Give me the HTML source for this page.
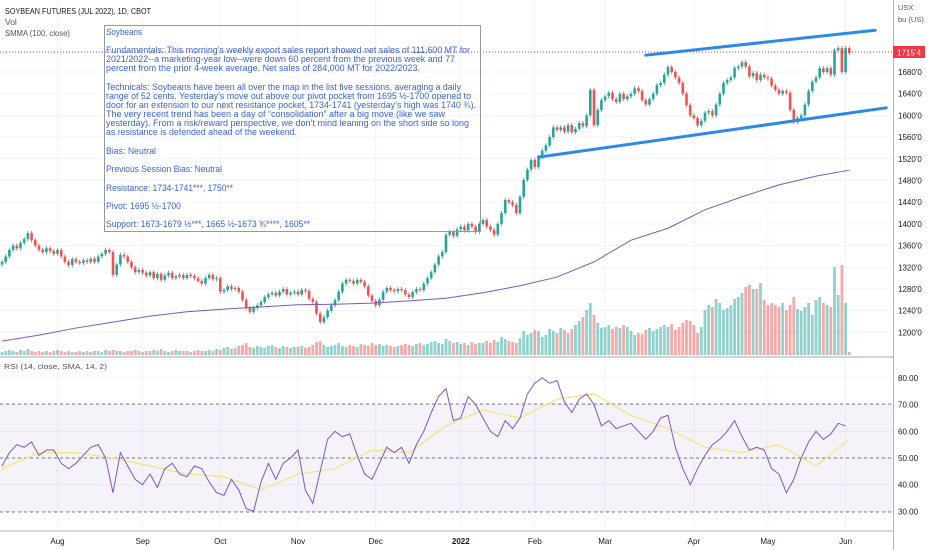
<!DOCTYPE html>
<html><head><meta charset="utf-8"><style>
html,body{margin:0;padding:0;background:#fff;width:932px;height:550px;overflow:hidden}
svg{display:block;font-family:"Liberation Sans",sans-serif}
</style></head><body>
<svg id="c" width="932" height="550" viewBox="0 0 932 550" xmlns="http://www.w3.org/2000/svg">
<g id="grid"></g>
<rect x="0" y="404" width="893" height="108" fill="#7e57c2" fill-opacity="0.08"/>
<g id="vol"></g>
<g id="candles"></g>
<path id="smma" fill="none" stroke="#7e57c2" stroke-width="1"/>
<line x1="0" y1="52" x2="893" y2="52" stroke="#f23645" stroke-width="1" stroke-dasharray="1,2"/>
<g id="trend"></g>
<g stroke="#787b86" stroke-dasharray="3,3" stroke-width="1">
<line x1="0" y1="404" x2="893" y2="404"/>
<line x1="0" y1="458" x2="893" y2="458"/>
<line x1="0" y1="512" x2="893" y2="512"/>
</g>
<path id="rsisig" fill="none" stroke="#f2e57a" stroke-width="1.2"/>
<path id="rsi" fill="none" stroke="#7e57c2" stroke-width="1"/>
<line x1="0" y1="357" x2="893" y2="357" stroke="#d1d4dc" stroke-width="2"/>
<line x1="0" y1="531" x2="893" y2="531" stroke="#b2b5be" stroke-width="1"/>
<line x1="893.5" y1="0" x2="893.5" y2="550" stroke="#b2b5be" stroke-width="1"/>
<g id="axes" font-size="8" fill="#131722"></g>
<g font-size="8.5">
<text x="5" y="14" fill="#131722" textLength="146" lengthAdjust="spacingAndGlyphs">SOYBEAN FUTURES (JUL 2022), 1D, CBOT</text>
<text x="5" y="25" fill="#555">Vol</text>
<text x="5" y="36" fill="#555" textLength="65" lengthAdjust="spacingAndGlyphs">SMMA (100, close)</text>
<text x="4" y="369" fill="#555" font-size="7.5" textLength="103" lengthAdjust="spacingAndGlyphs">RSI (14, close, SMA, 14, 2)</text>
</g>
<g>
<rect x="104.5" y="25.5" width="376" height="206" fill="none" stroke="#9598a1" stroke-width="1"/>
<g font-size="9.2" fill="#3a64e0">
<text x="106" y="35" textLength="36" lengthAdjust="spacingAndGlyphs">Soybeans</text>
<text x="106" y="53" textLength="364" lengthAdjust="spacingAndGlyphs">Fundamentals: This morning’s weekly export sales report showed net sales of 111,600 MT for</text>
<text x="106" y="62" textLength="349" lengthAdjust="spacingAndGlyphs">2021/2022--a marketing-year low--were down 60 percent from the previous week and 77</text>
<text x="106" y="71" textLength="314" lengthAdjust="spacingAndGlyphs">percent from the prior 4-week average. Net sales of 284,000 MT for 2022/2023.</text>
<text x="106" y="90" textLength="355" lengthAdjust="spacingAndGlyphs">Technicals: Soybeans have been all over the map in the list five sessions, averaging a daily</text>
<text x="106" y="99" textLength="365" lengthAdjust="spacingAndGlyphs">range of 52 cents. Yesterday’s move out above our pivot pocket from 1695 ½-1700 opened to</text>
<text x="106" y="108" textLength="370" lengthAdjust="spacingAndGlyphs">door for an extension to our next resistance pocket, 1734-1741 (yesterday’s high was 1740 ¾).</text>
<text x="106" y="117" textLength="339" lengthAdjust="spacingAndGlyphs">The very recent trend has been a day of “consolidation” after a big move (like we saw</text>
<text x="106" y="126" textLength="363" lengthAdjust="spacingAndGlyphs">yesterday). From a risk/reward perspective, we don’t mind leaning on the short side so long</text>
<text x="106" y="135" textLength="191" lengthAdjust="spacingAndGlyphs">as resistance is defended ahead of the weekend.</text>
<text x="106" y="154" textLength="50" lengthAdjust="spacingAndGlyphs">Bias: Neutral</text>
<text x="106" y="172" textLength="116" lengthAdjust="spacingAndGlyphs">Previous Session Bias: Neutral</text>
<text x="106" y="191" textLength="127" lengthAdjust="spacingAndGlyphs">Resistance: 1734-1741***, 1750**</text>
<text x="106" y="209" textLength="75" lengthAdjust="spacingAndGlyphs">Pivot: 1695 ½-1700</text>
<text x="106" y="227" textLength="204" lengthAdjust="spacingAndGlyphs">Support: 1673-1679 ½***, 1665 ½-1673 ¾****, 1605**</text>
</g></g>
<g font-size="7.5" fill="#555">
<text x="898" y="10">USX</text>
<text x="898" y="22">bu (US)</text>
</g>
<rect x="893" y="46" width="32" height="12" fill="#f23645"/>
<text x="897" y="55.5" font-size="8" fill="#fff">1715'4</text>
</svg>
<script>
const closes=[1330,1340,1352,1360,1355,1365,1372,1383,1370,1360,
1352,1348,1355,1350,1345,1352,1340,1330,1324,1335,
1330,1328,1333,1330,1336,1330,1340,1345,1352,1348,
1306,1325,1343,1340,1330,1320,1311,1315,1310,1305,
1311,1300,1308,1297,1305,1310,1300,1303,1306,1300,
1306,1304,1300,1295,1290,1300,1306,1298,1300,1275,
1278,1285,1280,1282,1275,1260,1245,1238,1245,1250,
1256,1265,1270,1273,1268,1275,1280,1270,1273,1275,
1270,1278,1276,1262,1256,1235,1219,1228,1240,1250,
1260,1275,1290,1297,1295,1290,1297,1293,1285,1268,
1258,1250,1260,1275,1282,1278,1276,1280,1278,1270,
1265,1274,1280,1278,1290,1300,1311,1325,1340,1348,
1380,1385,1378,1390,1395,1388,1400,1395,1385,1400,
1407,1395,1389,1380,1400,1420,1444,1440,1435,1420,
1450,1481,1500,1518,1505,1523,1535,1545,1560,1578,
1573,1578,1570,1582,1569,1575,1586,1580,1600,1647,
1582,1610,1628,1635,1642,1630,1625,1640,1630,1635,
1640,1650,1645,1628,1620,1630,1640,1656,1660,1675,
1689,1680,1670,1660,1640,1619,1600,1595,1582,1590,
1605,1608,1600,1620,1640,1660,1665,1670,1687,1690,
1698,1690,1672,1678,1665,1675,1670,1668,1655,1647,
1640,1645,1642,1610,1588,1595,1600,1620,1645,1662,
1670,1687,1680,1687,1675,1720,1724,1680,1724,1715];
const firstOpen=1325;
const volumes=[3,4,5,4,3,5,4,6,4,3,4,3,4,3,4,5,4,3,4,3,3,4,3,4,3,4,4,3,5,4,
5,4,4,3,4,4,5,4,3,4,4,5,4,6,4,3,4,5,4,4,4,3,4,5,4,4,5,4,6,5,
7,8,6,7,9,10,12,8,7,9,8,7,9,10,8,7,9,8,7,8,8,9,7,8,10,13,14,10,8,9,
10,12,9,8,10,9,8,11,10,9,12,10,11,9,10,9,8,9,10,11,10,9,11,12,10,11,13,14,12,11,
16,14,12,13,11,12,10,13,11,12,12,14,12,15,13,18,16,14,13,12,17,24,20,22,25,24,18,20,26,24,
22,27,25,22,26,30,34,38,45,52,40,32,27,28,30,26,28,27,30,28,24,20,22,21,25,27,24,26,28,30,
28,31,25,28,32,35,34,30,22,28,45,50,48,56,52,45,47,50,56,58,62,68,70,66,66,72,55,50,52,50,
48,52,45,50,58,46,44,48,52,40,55,58,52,50,48,88,60,90,52,3];
const smma=[1184,1195,1208,1219,1230,1238,1243,1247,1251,1252,1254,1258,1263,1273,1286,1302,1330,1370,1392,1426,1450,1472,1488,1499];
const rsi=[47,52,55,54,56,51,53,53,48,46,48,51,54,55,50,37,52,47,42,40,44,39,46,48,44,43,47,46,41,37,
36,42,38,31,30,41,48,42,48,50,53,38,33,45,57,60,58,59,51,44,42,48,54,52,54,48,55,60,67,73,
76,64,65,73,70,65,60,58,64,61,65,74,78,80,78,79,71,67,72,74,70,62,64,61,62,63,60,57,60,65,
66,54,46,40,46,51,55,57,60,64,58,53,54,53,46,44,37,42,50,56,60,57,59,63,62];
const rsiSignal=[46,52,52,50,47,44,43,38,44,46,53,52,62,68,65,72,74,66,61,54,52,55,47,57];
const priceTicks=[1680,1640,1600,1560,1520,1480,1440,1400,1360,1320,1280,1240,1200];
const rsiTicks=[80,70,60,50,40,30];
const months=["Aug","Sep","Oct","Nov","Dec","2022","Feb","Mar","Apr","May","Jun"];
const monthBars=[15,38,59,80,101,124,144,163,187,207,228];
const upperLine=[[174,1711],[236,1757]];
const lowerLine=[[145,1523],[239,1614]];

const NS="http://www.w3.org/2000/svg";
const xOf=i=>2+i*3.7;
const yP=p=>72+(1680-p)*0.5425;
const yR=v=>458-(v-50)*2.67;
const VOL_BASE=355;
function mk(tag,attrs,parent){const e=document.createElementNS(NS,tag);for(const k in attrs)e.setAttribute(k,attrs[k]);parent.appendChild(e);return e;}
const G=id=>document.getElementById(id);

// grid
priceTicks.forEach(p=>{const l=mk('line',{x1:0,x2:893,y1:yP(p),y2:yP(p),stroke:'#f0f3fa'},G('grid'));

});
rsiTicks.forEach(v=>{const l=mk('line',{x1:0,x2:893,y1:yR(v),y2:yR(v),stroke:'#f0f3fa'},G('grid'));

});
monthBars.forEach(b=>{const l=mk('line',{x1:xOf(b),x2:xOf(b),y1:0,y2:531,stroke:'#f0f3fa'},G('grid'));

});

// candles & volume
closes.forEach((c,i)=>{
 const o=i===0?firstOpen:closes[i-1];
 const up=c>=o;
 const col=up?'#26a69a':'#ef5350';
 const x=xOf(i);
 const hi=Math.max(o,c)+4, lo=Math.min(o,c)-4;
 const w=mk('line',{x1:x,x2:x,y1:yP(hi),y2:yP(lo),stroke:col,'stroke-width':0.8},G('candles'));
 
 
 const top=yP(Math.max(o,c)),bh=Math.max(1,yP(Math.min(o,c))-top);
 const r=mk('rect',{x:x-1.3,y:top,width:2.6,height:bh,fill:col},G('candles'));
 
 
 const v=volumes[i];
 const vb=mk('rect',{x:x-1.4,y:VOL_BASE-v,width:2.8,height:v,fill:col,'fill-opacity':0.5},G('vol'));
 
 
});

// smma
G('smma').setAttribute('d',smma.map((v,k)=>(k?'L':'M')+xOf(Math.min(k*10,closes.length-1))+','+yP(v)).join(''));
// rsi
let d='';rsi.forEach((v,k)=>{const b=k*2;if(b<=closes.length-1)d+=(d?'L':'M')+xOf(b)+','+yR(v);});
G('rsi').setAttribute('d',d);
G('rsisig').setAttribute('d',rsiSignal.map((v,k)=>(k?'L':'M')+xOf(Math.min(k*10,closes.length-1))+','+yR(v)).join(''));

// trend lines
[upperLine,lowerLine].forEach((ln,j)=>{const l=mk('line',{x1:xOf(ln[0][0]),y1:yP(ln[0][1]),x2:xOf(ln[1][0]),y2:yP(ln[1][1]),stroke:'#2a8ae8','stroke-width':3,'stroke-linecap':'round'},G('trend'));

});

// axes
priceTicks.forEach(p=>{const t=mk('text',{x:898,y:yP(p)+3},G('axes'));t.textContent=p+"'0";

});
rsiTicks.forEach(v=>{const t=mk('text',{x:898,y:yR(v)+3},G('axes'));t.textContent=v.toFixed(2);

});
months.forEach((m,k)=>{const t=mk('text',{x:xOf(monthBars[k]),y:544,'text-anchor':'middle','font-weight':m==='2022'?'bold':'normal'},G('axes'));t.textContent=m;

});
</script>
</body></html>
